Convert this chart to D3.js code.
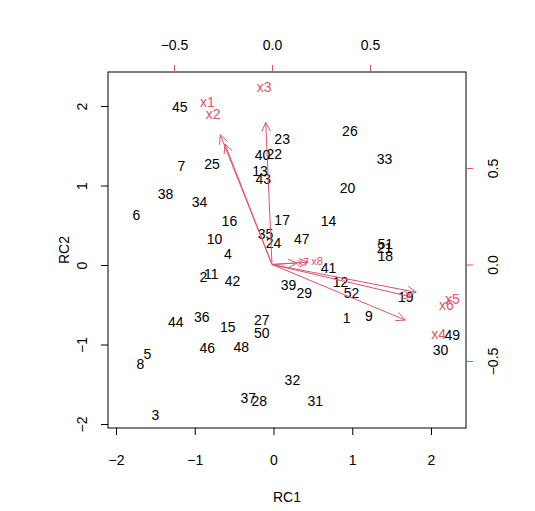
<!DOCTYPE html>
<html>
<head>
<meta charset="utf-8">
<script src="https://cdn.jsdelivr.net/npm/d3@7"></script>
<style>
  body { margin: 0; background: #fff; }
  text { font-family: "Liberation Sans", Arial, sans-serif; }
</style>
</head>
<body>
<svg width="535" height="511"></svg>
<script>
const W = 535, H = 511;
const PINK = "#df536b";

// scores (RC1, RC2)
const obsIds = [45,26,23,40,22,33,7,25,13,43,38,20,34,6,16,17,14,10,35,47,51,21,24,18,4,41,2,11,42,12,39,29,52,19,1,9,44,36,27,15,50,49,46,48,5,30,8,32,37,28,31,3];
const rc1 = [-1.19,0.97,0.11,-0.14,0.01,1.41,-1.17,-0.78,-0.17,-0.13,-1.37,0.94,-0.94,-1.74,-0.56,0.11,0.70,-0.75,-0.10,0.36,1.42,1.41,0.00,1.42,-0.58,0.70,-0.89,-0.79,-0.52,0.85,0.19,0.39,0.99,1.68,0.93,1.21,-1.24,-0.91,-0.15,-0.58,-0.15,2.27,-0.84,-0.41,-1.60,2.12,-1.69,0.24,-0.32,-0.18,0.53,-1.50];
const rc2 = [1.99,1.68,1.58,1.38,1.40,1.33,1.25,1.27,1.18,1.08,0.89,0.97,0.79,0.63,0.55,0.57,0.55,0.33,0.39,0.33,0.26,0.21,0.28,0.11,0.14,-0.04,-0.15,-0.11,-0.20,-0.21,-0.25,-0.35,-0.35,-0.40,-0.67,-0.64,-0.72,-0.65,-0.69,-0.78,-0.86,-0.88,-1.04,-1.03,-1.12,-1.07,-1.25,-1.45,-1.67,-1.71,-1.71,-1.89];

// loadings
const varNames = ["x1","x2","x3","x4","x5","x6","x7","x8"];
const load1 = [-0.33,-0.30,-0.04,0.85,0.92,0.89,0.16,0.23];
const load2 = [0.84,0.78,0.92,-0.36,-0.18,-0.21,0.01,0.015];

const scoreTicks = [-2,-1,0,1,2];
const loadTicks = [-0.5,0.0,0.5];

const box = { l: 108, r: 466, t: 72, b: 428 };

const x = d3.scaleLinear().domain([-2, 2]).range([116, 431]);
const y = d3.scaleLinear().domain([-2, 2]).range([424, 106]);
const lx = d3.scaleLinear().domain([-0.5, 0.5]).range([174, 370]);
const ly = d3.scaleLinear().domain([-0.5, 0.5]).range([361, 168]);

const svg = d3.select("svg");

// points as labels
svg.append("g").selectAll("text").data(obsIds).join("text")
  .attr("x", (d, i) => x(rc1[i])).attr("y", (d, i) => y(rc2[i]))
  .attr("text-anchor", "middle").attr("dy", "0.35em")
  .attr("font-size", 14).attr("fill", "#000").text(d => d);

// arrows
const arr = svg.append("g").attr("stroke", PINK).attr("fill", "none");
varNames.forEach((v, i) => {
  const x0 = lx(0), y0 = ly(0);
  const x1 = lx(load1[i] * 0.8), y1 = ly(load2[i] * 0.8);
  arr.append("line").attr("x1", x0).attr("y1", y0).attr("x2", x1).attr("y2", y1);
  const a = Math.atan2(y1 - y0, x1 - x0), len = 10, sp = Math.PI / 7;
  arr.append("path").attr("d",
    `M${x1 - len * Math.cos(a - sp)},${y1 - len * Math.sin(a - sp)}L${x1},${y1}L${x1 - len * Math.cos(a + sp)},${y1 - len * Math.sin(a + sp)}`);
});
svg.append("g").selectAll("text").data(varNames).join("text")
  .attr("x", (d, i) => lx(load1[i])).attr("y", (d, i) => ly(load2[i]))
  .attr("text-anchor", "middle").attr("dy", "0.35em")
  .attr("font-size", (d, i) => i >= 6 ? 11 : 14).attr("fill", PINK).text(d => d);

// box
svg.append("rect").attr("x", box.l).attr("y", box.t)
  .attr("width", box.r - box.l).attr("height", box.b - box.t)
  .attr("fill", "none").attr("stroke", "#000");

const bAx = svg.append("g").attr("transform", `translate(0,${box.b})`)
  .call(d3.axisBottom(x).tickValues(scoreTicks).tickSize(7).tickPadding(20).tickFormat(d3.format("d")));
const lAx = svg.append("g").attr("transform", `translate(${box.l},0)`)
  .call(d3.axisLeft(y).tickValues(scoreTicks).tickSize(7).tickFormat(d3.format("d")));
const tAx = svg.append("g").attr("transform", `translate(0,${box.t})`)
  .call(d3.axisTop(lx).tickValues(loadTicks).tickSize(7).tickPadding(15).tickFormat(d3.format(".1f")));
tAx.selectAll("line").attr("stroke", PINK);
const rAx = svg.append("g").attr("transform", `translate(${box.r},0)`)
  .call(d3.axisRight(ly).tickValues(loadTicks).tickSize(7).tickFormat(d3.format(".1f")));
rAx.selectAll("line").attr("stroke", PINK);

[bAx, lAx, tAx, rAx].forEach(g => {
  g.select(".domain").remove();
  g.selectAll("text").attr("font-size", 14).attr("fill", "#000")
    .attr("font-family", "Liberation Sans, Arial, sans-serif");
});
lAx.selectAll("text").attr("x", 0).attr("dy", "0.35em").attr("text-anchor", "middle")
  .attr("transform", "translate(-26,0) rotate(-90)");
rAx.selectAll("text").attr("x", 0).attr("dy", "0.35em").attr("text-anchor", "middle")
  .attr("transform", "translate(27,0) rotate(-90)");

svg.append("text").attr("x", (box.l + box.r) / 2).attr("y", 502)
  .attr("text-anchor", "middle").attr("font-size", 14).text("RC1");
svg.append("text").attr("transform", `translate(69,${(box.t + box.b) / 2}) rotate(-90)`)
  .attr("text-anchor", "middle").attr("font-size", 14).text("RC2");
</script>
</body>
</html>
